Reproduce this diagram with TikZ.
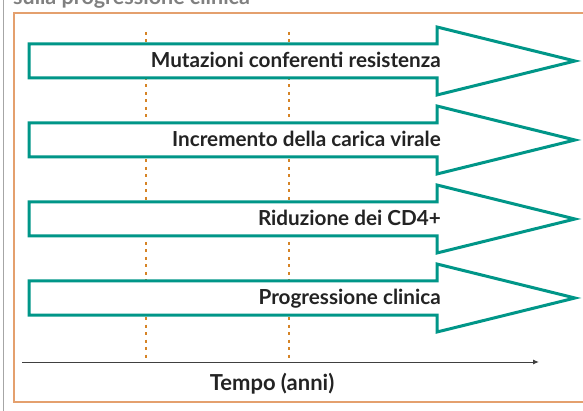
\documentclass[tikz,border=0pt]{standalone}
\usepackage{fontspec}
\setsansfont{Lato}
\usepackage{tikz}
\usetikzlibrary{positioning, arrows.meta}

\definecolor{verdeacqua}{RGB}{0,150,136}
\definecolor{arancio}{RGB}{214,132,38}
\definecolor{cornice}{RGB}{228,160,110}
\definecolor{testoscuro}{RGB}{35,35,35}

\tikzset{
    freccia/.style={draw=verdeacqua, line width=3pt, fill=white, line join=miter},
    guida/.style={draw=arancio, line width=2.8pt, dash pattern=on 3pt off 4.5pt},
    etichetta/.style={font=\sffamily\bfseries\fontsize{20.7}{24}\selectfont, text=testoscuro, inner sep=0pt}
}

\begin{document}
\begin{tikzpicture}[x=1pt, y=-1pt]
        \useasboundingbox (0,0) rectangle (583,411);
        \begin{scope}
        \clip (0,0) rectangle (583,411);
        \node[etichetta, text=gray, font=\sffamily\bfseries\fontsize{21.5}{24}\selectfont, anchor=base west] (titolo) at (13,5) {sulla progressione clinica};
        \draw[gray!70, line width=1.5pt] (3.5,0) -- (3.5,411);
        \draw[cornice, line width=1.2pt] (590,13) -- (14,13) -- (14,402) -- (590,402);
        \end{scope}

        \coordinate (g1a) at (146,32);
        \coordinate (g1b) at (146,359);
        \coordinate (g2a) at (289,32);
        \coordinate (g2b) at (289,359);
        \draw[guida] (g1a) -- (g1b);
        \draw[guida] (g2a) -- (g2b);

        \draw[freccia] (29,44) -- (437,44) -- (437,27) -- (575,61) -- (437,95) -- (437,78) -- (29,78) -- cycle;
        \draw[freccia] (29,123) -- (437,123) -- (437,106) -- (575,140) -- (437,174) -- (437,157) -- (29,157) -- cycle;
        \draw[freccia] (29,202) -- (437,202) -- (437,185) -- (575,219) -- (437,253) -- (437,236) -- (29,236) -- cycle;
        \draw[freccia] (29,281) -- (437,281) -- (437,264) -- (575,298) -- (437,332) -- (437,315) -- (29,315) -- cycle;

        \node[etichetta, anchor=base east] (mutazioni) at (441,68) {Mutazioni conferenti resistenza};
        \node[etichetta, anchor=base east] (carica) at (441,147) {Incremento della carica virale};
        \node[etichetta, anchor=base east] (cd4) at (441,226) {Riduzione dei CD4+};
        \node[etichetta, anchor=base east] (clinica) at (441,305) {Progressione clinica};

        \coordinate (inizio) at (22,362);
        \coordinate (fine) at (539,362);
        \draw[-{Latex[length=6pt, width=5pt]}, black!75, line width=1pt] (inizio) -- (fine);
        \node[etichetta, font=\sffamily\bfseries\fontsize{22}{24}\selectfont, anchor=base] (tempo) at (272,390) {Tempo (anni)};
    \end{tikzpicture}
\end{document}
